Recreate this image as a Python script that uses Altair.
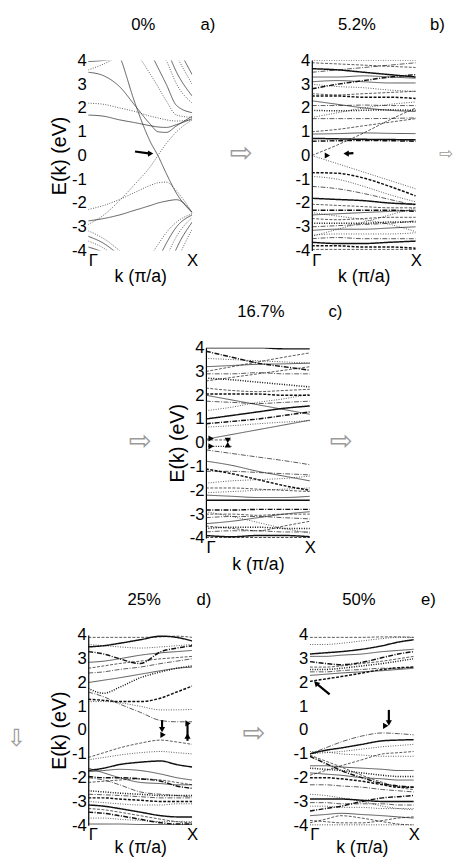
import altair as alt
import pandas as pd

FONT = "Liberation Sans"

# ---------------- data (energies in eV) ----------------
Y_TICKS = [-4, -3, -2, -1, 0, 1, 2, 3, 4]
TITLES = ["0%", "5.2%", "16.7%", "25%", "50%"]
LETTERS = ["a)", "b)", "c)", "d)", "e)"]

K_A = [0, 0.15, 0.3, 0.45, 0.6, 0.67, 0.75, 0.85, 1.0]
BANDS_A = [
    [6.0, 5.3, 4.2, 2.2, 0.55, 0.0, -0.75, -1.6, -2.4],
    [-2.9, -2.5, -1.9, -1.2, -0.45, 0.0, 0.5, 1.0, 1.5],
    [3.5, 3.35, 2.9, 2.1, 1.3, 1.0, 0.97, 1.25, 1.65],
    [2.2, 2.15, 2.0, 1.85, 1.65, 1.58, 1.5, 1.45, 1.5],
    [1.7, 1.65, 1.5, 1.38, 1.25, 1.2, 1.18, 1.3, 1.55],
    [3.6, 3.85, 4.2, 4.6, 5.0, 5.1, 5.2, 5.3, 5.4],
    [3.95, 4.0, 4.1, 4.3, 4.5, 4.6, 4.7, 4.8, 4.9],
    [7.0, 6.2, 5.3, 4.4, 3.4, 2.9, 2.3, 1.7, 1.6],
    [8.0, 7.2, 6.3, 5.4, 4.3, 3.7, 3.0, 2.1, 1.8],
    [9.0, 8.2, 7.2, 6.2, 5.1, 4.6, 4.0, 3.0, 2.2],
    [9.6, 8.8, 7.9, 6.9, 5.7, 5.2, 4.5, 3.5, 2.5],
    [10.0, 9.3, 8.5, 7.6, 6.4, 5.8, 5.2, 4.2, 3.0],
    [11.0, 10.2, 9.4, 8.5, 7.3, 6.6, 5.8, 4.7, 3.4],
    [-2.27, -2.1, -1.85, -1.55, -1.25, -1.15, -1.12, -1.5, -2.4],
    [-2.75, -2.65, -2.5, -2.3, -2.1, -2.0, -1.92, -1.86, -2.4],
    [-3.17, -3.5, -4.0, -4.6, -5.2, -5.5, -5.8, -6.2, -6.8],
    [-3.4, -3.7, -4.2, -4.8, -5.4, -5.7, -6.0, -6.4, -7.0],
    [-3.6, -3.9, -4.4, -5.0, -5.6, -5.9, -6.2, -6.6, -7.2],
    [-3.85, -4.1, -4.6, -5.2, -5.8, -6.1, -6.4, -6.8, -7.4],
    [-7.5, -6.8, -6.0, -5.2, -4.2, -3.75, -3.25, -2.8, -2.45],
    [-9.0, -8.2, -7.3, -6.3, -5.0, -4.4, -3.7, -3.0, -2.5],
    [-10.0, -9.2, -8.3, -7.3, -6.0, -5.2, -4.3, -3.4, -2.6],
    [-11.0, -10.0, -9.0, -8.0, -6.8, -6.0, -5.0, -3.9, -2.8],
    [-12.0, -11.0, -10.0, -9.0, -7.6, -6.8, -5.8, -4.5, -3.1],
]

K_B = [0, 0.25, 0.5, 0.75, 1.0]
BANDS_B = [
    [0.72, 0.7, 0.68, 0.67, 0.66],
    [0.0, 0.45, 0.95, 1.5, 2.0],
    [0.0, -0.35, -0.7, -1.05, -1.4],
    [0.6, 0.62, 0.63, 0.62, 0.6],
    [0.9, 0.92, 0.95, 0.93, 0.92],
    [1.0, 1.1, 1.25, 1.4, 1.55],
    [1.9, 1.88, 1.9, 1.92, 1.9],
    [1.55, 1.55, 1.55, 1.56, 1.58],
    [2.3, 2.15, 2.0, 1.9, 1.85],
    [2.5, 2.5, 2.45, 2.45, 2.4],
    [1.6, 1.8, 2.0, 2.15, 2.25],
    [2.1, 2.1, 2.12, 2.1, 2.1],
    [3.65, 3.6, 3.5, 3.4, 3.3],
    [2.6, 2.55, 2.6, 2.65, 2.7],
    [3.0, 2.9, 2.85, 2.75, 2.7],
    [2.8, 3.0, 3.15, 3.3, 3.4],
    [3.3, 3.3, 3.35, 3.3, 3.25],
    [3.9, 3.85, 3.8, 3.75, 3.7],
    [4.0, 4.0, 4.0, 4.0, 4.0],
    [3.5, 3.6, 3.7, 3.8, 3.9],
    [3.1, 3.15, 3.1, 3.05, 3.05],
    [-0.72, -0.75, -0.95, -1.3, -1.7],
    [-0.88, -1.0, -1.3, -1.65, -1.95],
    [-1.3, -1.4, -1.6, -1.85, -2.1],
    [-1.8, -1.85, -1.9, -2.0, -2.05],
    [-2.05, -2.1, -2.15, -2.2, -2.2],
    [-2.4, -2.55, -2.7, -2.9, -3.2],
    [-2.3, -2.3, -2.3, -2.3, -2.35],
    [-2.5, -2.45, -2.4, -2.35, -2.3],
    [-2.65, -2.7, -2.65, -2.6, -2.6],
    [-2.85, -2.85, -2.85, -2.8, -2.8],
    [-3.0, -2.95, -2.9, -2.85, -2.75],
    [-3.15, -3.1, -3.1, -3.05, -3.0],
    [-3.8, -3.8, -3.85, -3.85, -3.9],
    [-3.35, -3.3, -3.3, -3.3, -3.25],
    [-3.5, -3.45, -3.5, -3.5, -3.5],
    [-3.65, -3.7, -3.7, -3.65, -3.6],
    [-3.95, -3.95, -3.95, -3.95, -3.95],
    [-3.4, -3.1, -2.8, -2.5, -2.2],
]

K_C = [0, 0.25, 0.5, 0.75, 1.0]
BANDS_C = [
    [4.0, 4.0, 4.0, 3.95, 3.95],
    [3.0, 3.2, 3.4, 3.6, 3.78],
    [3.55, 3.5, 3.45, 3.4, 3.35],
    [3.85, 3.6, 3.35, 3.2, 3.05],
    [3.2, 3.25, 3.3, 3.32, 3.35],
    [2.6, 2.75, 2.9, 3.05, 3.2],
    [2.72, 2.65, 2.55, 2.45, 2.35],
    [2.9, 2.9, 2.95, 2.9, 2.9],
    [2.0, 1.8, 1.6, 1.4, 1.2],
    [2.05, 2.05, 2.05, 2.0, 2.0],
    [1.35, 1.5, 1.7, 1.85, 2.05],
    [1.75, 1.7, 1.65, 1.7, 1.75],
    [1.0, 1.15, 1.3, 1.45, 1.55],
    [2.3, 2.2, 2.15, 2.2, 2.25],
    [0.66, 0.72, 0.8, 0.87, 0.93],
    [0.8, 0.9, 1.0, 1.15, 1.3],
    [0.15, 0.35, 0.55, 0.75, 0.95],
    [0.12, 0.12, None, None, None],
    [-0.15, -0.15, None, None, None],
    [-0.3, -0.45, -0.6, -0.75, -0.92],
    [-0.77, -0.95, -1.2, -1.4, -1.6],
    [-1.1, -1.3, -1.55, -1.8, -2.0],
    [-1.7, -1.6, -1.55, -1.5, -1.4],
    [-1.2, -1.2, -1.25, -1.3, -1.35],
    [-2.42, -2.42, -2.42, -2.42, -2.42],
    [-1.9, -1.9, -1.95, -2.0, -2.05],
    [-2.1, -2.05, -2.0, -1.95, -1.9],
    [-2.83, -2.83, -2.8, -2.8, -2.8],
    [-2.2, -2.25, -2.3, -2.3, -2.25],
    [-3.0, -3.0, -3.05, -3.0, -3.0],
    [-3.6, -3.55, -3.55, -3.6, -3.6],
    [-3.15, -3.1, -3.1, -3.15, -3.2],
    [-3.4, -3.3, -3.15, -3.0, -2.9],
    [-4.0, -4.0, -4.0, -4.0, -4.0],
    [-2.9, -3.1, -3.35, -3.6, -3.8],
    [-3.75, -3.7, -3.7, -3.75, -3.75],
    [-3.9, -3.95, -3.9, -3.9, -3.95],
    [-3.5, -3.6, -3.7, -3.5, -3.3],
]

K_DE = [0, 0.15, 0.3, 0.5, 0.7, 0.85, 1.0]
BANDS_D = [
    [3.5, 3.55, 3.65, 3.8, 3.95, 3.9, 3.75],
    [3.9, 3.9, 3.9, 3.9, 3.92, 3.95, 3.9],
    [3.6, 3.55, 3.5, 3.45, 3.5, 3.55, 3.6],
    [3.3, 3.2, 3.0, 2.8, 3.3, 3.45, 3.55],
    [2.85, 2.9, 3.0, 3.15, 3.25, 3.3, 3.35],
    [2.6, 2.7, 2.8, 2.9, 3.0, 3.05, 3.1],
    [1.75, 1.55, 1.8, 2.2, 2.45, 2.6, 2.7],
    [2.4, 2.45, 2.55, 2.65, 2.8, 2.9, 3.0],
    [2.0, 2.1, 2.2, 2.35, 2.5, 2.6, 2.65],
    [1.3, 1.25, 1.2, 1.2, 1.35, 1.6, 1.85],
    [1.2, 1.2, 1.15, 1.0, 0.85, 0.85, 0.87],
    [1.6, 1.4, 1.1, 0.75, 0.4, 0.35, 0.35],
    [-1.7, -1.6, -1.45, -1.35, -1.3, -1.45, -1.55],
    [-1.15, -0.95, -0.75, -0.55, -0.42, -0.5, -0.6],
    [-1.25, -1.15, -1.05, -0.95, -0.9, -0.95, -1.0],
    [-1.95, -2.0, -2.0, -2.05, -2.15, -2.35, -2.45],
    [-1.75, -1.7, -1.65, -1.7, -1.85, -2.0, -2.1],
    [-2.2, -2.15, -2.1, -2.05, -2.1, -2.2, -2.3],
    [-2.55, -2.6, -2.65, -2.7, -2.75, -2.75, -2.75],
    [-2.7, -2.72, -2.75, -2.8, -2.85, -2.85, -2.85],
    [-1.6, -1.8, -2.0, -2.2, -2.25, -2.3, -2.3],
    [-2.85, -2.85, -2.9, -2.95, -3.0, -3.0, -3.0],
    [-3.0, -3.05, -3.1, -3.15, -3.15, -3.1, -3.1],
    [-2.0, -2.1, -2.3, -2.6, -2.7, -2.75, -2.8],
    [-3.15, -3.2, -3.3, -3.45, -3.6, -3.65, -3.65],
    [-3.3, -3.35, -3.45, -3.6, -3.75, -3.85, -3.9],
    [-3.7, -3.7, -3.75, -3.8, -3.85, -3.85, -3.85],
    [-3.45, -3.5, -3.6, -3.75, -3.9, -3.95, -3.95],
    [-3.95, -3.95, -3.95, -3.97, -3.97, -3.97, -3.97],
]

BANDS_E = [
    [3.2, 3.25, 3.3, 3.4, 3.55, 3.7, 3.8],
    [3.9, 3.9, 3.9, 3.9, 3.92, 3.92, 3.9],
    [3.6, 3.6, 3.65, 3.75, 3.85, 3.9, 3.9],
    [2.88, 2.8, 2.75, 2.85, 3.05, 3.2, 3.3],
    [3.1, 3.1, 3.15, 3.2, 3.3, 3.35, 3.4],
    [2.65, 2.65, 2.7, 2.8, 2.9, 3.0, 3.1],
    [2.55, 2.55, 2.6, 2.7, 2.8, 2.9, 3.0],
    [2.45, 2.45, 2.5, 2.55, 2.6, 2.6, 2.65],
    [2.3, 2.35, 2.4, 2.45, 2.5, 2.55, 2.6],
    [2.05, 2.15, 2.25, 2.4, 2.55, 2.62, 2.65],
    [-0.9, -0.92, -1.0, -1.05, -1.1, -1.1, -1.1],
    [-1.0, -0.75, -0.5, -0.25, -0.12, -0.15, -0.2],
    [-1.0, -0.85, -0.75, -0.6, -0.45, -0.42, -0.4],
    [-1.05, -1.3, -1.55, -1.9, -2.2, -2.4, -2.5],
    [-1.0, -0.95, -0.9, -0.8, -0.7, -0.65, -0.6],
    [-1.1, -1.4, -1.7, -2.0, -2.25, -2.35, -2.4],
    [-1.5, -1.5, -1.55, -1.6, -1.65, -1.7, -1.7],
    [-1.9, -1.7, -1.5, -1.25, -1.0, -0.95, -0.9],
    [-1.6, -1.65, -1.7, -1.8, -1.9, -1.95, -1.95],
    [-3.05, -3.05, -3.1, -3.1, -3.1, -3.15, -3.15],
    [-1.8, -1.85, -1.9, -2.0, -2.05, -2.1, -2.1],
    [-2.0, -2.0, -2.05, -2.15, -2.3, -2.4, -2.4],
    [-3.2, -3.2, -3.25, -3.25, -3.3, -3.3, -3.3],
    [-2.3, -2.3, -2.35, -2.4, -2.5, -2.55, -2.6],
    [-2.9, -2.9, -2.9, -2.95, -3.0, -3.0, -3.0],
    [-3.8, -3.85, -3.9, -3.9, -3.8, -3.7, -3.65],
    [-2.7, -2.75, -2.85, -3.0, -3.2, -3.3, -3.35],
    [-3.4, -3.3, -3.2, -3.0, -2.85, -2.8, -2.75],
    [-3.6, -3.55, -3.5, -3.55, -3.6, -3.65, -3.7],
    [-3.9, -3.75, -3.6, -3.7, -3.85, -3.95, -4.0],
    [-4.0, -4.0, -4.0, -4.0, -4.0, -4.0, -4.0],
]

# annotation arrows inside the panels: heads (k, E, direction), shafts (k1, E1, k2, E2)
HEADS = {
    0: [(0.6, 0.08, 90)],
    1: [(0.15, 0.0, 90), (0.33, 0.08, 270)],
    2: [(0.05, 0.18, 90), (0.05, -0.15, 90), (0.21, 0.1, 180), (0.21, -0.08, 0)],
    3: [(0.71, 0.02, 180), (0.72, -0.2, 90), (0.96, 0.28, 90), (0.955, -0.25, 0)],
    4: [(0.06, 1.97, 315), (0.76, 0.3, 180), (0.73, 0.18, 90)],
}
SHAFTS = {
    0: [(0.45, 0.17, 0.58, 0.09)],
    1: [(0.33, 0.08, 0.4, 0.1)],
    2: [],
    3: [(0.71, 0.42, 0.71, 0.05), (0.955, 0.28, 0.955, -0.45)],
    4: [(0.19, 1.5, 0.07, 1.93), (0.76, 0.85, 0.76, 0.35)],
}

# ---------------- chart ----------------
W, H = 106, 194
DASHES = [[1, 0], [3, 1.5], [1, 1.5], [5, 1.5, 1, 1.5]]
ONE = pd.DataFrame({"o": [0]})


def band_frame(K, bands, plain=False):
    rows = []
    for i, band in enumerate(bands):
        for k, e in zip(K, band):
            if e is None:
                continue
            if plain:
                dash, w = ("d0" if i % 2 == 0 else "d2"), 0.8
            else:
                dash, w = f"d{i % 4}", (1.5 if i % 3 == 0 else 0.7)
            rows.append({"k": k, "E": e, "band": i, "dash": dash, "w": w})
    return pd.DataFrame(rows)


def txt(t, x, y, size=17, color="black", font=FONT):
    return alt.Chart(ONE).mark_text(
        font=font, fontSize=size, color=color, align="center", baseline="middle"
    ).encode(x=alt.value(x), y=alt.value(y), text=alt.value(t))


def anchor(x):
    # invisible point that fixes each row's left extent for the layout
    return alt.Chart(ONE).mark_point(opacity=0, size=1, strokeWidth=0).encode(
        x=alt.value(x), y=alt.value(97))


def panel(idx, K, bands, ytitle, ydomain, title_x, letter_x, extra, plain=False, xtpad=0):
    xs = alt.Scale(domain=[0, 1], nice=False, zero=False)
    ys = alt.Scale(domain=[-4, 4], nice=False, zero=False)
    xaxis = alt.Axis(values=[0, 1], labelExpr="datum.value == 0 ? 'Γ' : 'X'",
                     labelAlign={"expr": "datum.value == 0 ? 'left' : 'center'"},
                     labelFont=FONT, labelFontSize=17, labelColor="black",
                     labelPadding=2, tickSize=0, domain=False, grid=False,
                     titleFont=FONT, titleFontSize=18, titleFontWeight="normal",
                     titleColor="black", titlePadding=xtpad)
    yaxis = alt.Axis(values=Y_TICKS, labelExpr="'' + datum.value",
                     labelFont=FONT, labelFontSize=17, labelColor="black",
                     labelPadding=2, tickSize=0, domain=ydomain,
                     domainColor="black", domainWidth=1.2, grid=False,
                     titleFont=FONT, titleFontSize=20, titleFontWeight="normal",
                     titleColor="black", titlePadding=2)
    X = alt.X("k:Q", scale=xs, axis=xaxis, title="k (π/a)")
    Y = alt.Y("E:Q", scale=ys, axis=yaxis, title=ytitle)

    lines = alt.Chart(band_frame(K, bands, plain)).mark_line(
        clip=True, interpolate="monotone", color="#111" if not plain else "#333"
    ).encode(
        x=X, y=Y, detail="band:N",
        strokeDash=alt.StrokeDash("dash:N", scale=alt.Scale(domain=["d0", "d1", "d2", "d3"], range=DASHES), legend=None),
        strokeWidth=alt.StrokeWidth("w:Q", scale=None),
    )
    layers = [lines]
    sh = SHAFTS[idx]
    if sh:
        sdf = pd.DataFrame(sh, columns=["k", "E", "k2", "E2"])
        layers.append(alt.Chart(sdf).mark_rule(color="black", strokeWidth=2.2).encode(
            x=X, y=Y, x2="k2:Q", y2="E2:Q"))
    hdf = pd.DataFrame(HEADS[idx], columns=["k", "E", "ang"])
    layers.append(alt.Chart(hdf).mark_point(shape="triangle-up", filled=True, color="black",
                                            size=40, opacity=1).encode(
        x=X, y=Y, angle=alt.Angle("ang:Q", scale=None)))
    layers.append(txt(TITLES[idx], title_x, -36))
    layers.append(txt(LETTERS[idx], letter_x, -36))
    layers += extra
    return alt.layer(*layers).properties(width=W, height=H)


ARROW = "⇨"
GREY = "#9a9a9a"
pa = panel(0, K_A, BANDS_A, "E(k) (eV)", False, 56, 122,
           [txt(ARROW, 156, 96, 28, GREY, "DejaVu Sans"), anchor(-86)], plain=True)
pb = panel(1, K_B, BANDS_B, None, True, 46, 128,
           [txt(ARROW, 137, 96, 17, GREY, "DejaVu Sans")])
pc = panel(2, K_C, BANDS_C, "E(k) (eV)", True, 56, 132,
           [txt(ARROW, -67, 96, 28, GREY, "DejaVu Sans"),
            txt(ARROW, 138, 96, 28, GREY, "DejaVu Sans")])
pd_ = panel(3, K_DE, BANDS_D, "E(k) (eV)", True, 57, 118,
            [txt("⇩", -73, 106, 24, GREY, "DejaVu Sans"),
             txt(ARROW, 169, 101, 28, GREY, "DejaVu Sans"), anchor(-88)], xtpad=-4)
pe = panel(4, K_DE, BANDS_E, None, False, 50, 121, [], xtpad=-4)

spacer = alt.layer(
    alt.Chart(ONE).mark_point(opacity=0, size=1, strokeWidth=0).encode(
        x=alt.value(0), y=alt.value(0)),
    anchor(-86),
).properties(width=1, height=H)

row1 = alt.hconcat(pa, pb, spacing=122, bounds="flush")
row2 = alt.hconcat(spacer, pc, spacing=119, bounds="flush")
row3 = alt.hconcat(pd_, pe, spacing=120, bounds="flush")

chart = alt.vconcat(row1, row2, row3, spacing=18).properties(
    padding={"left": 1, "top": 8, "right": 0, "bottom": 0}, background="white"
).configure_view(stroke=None)

chart.save("out.html", embed_options={"renderer": "svg", "actions": False})
